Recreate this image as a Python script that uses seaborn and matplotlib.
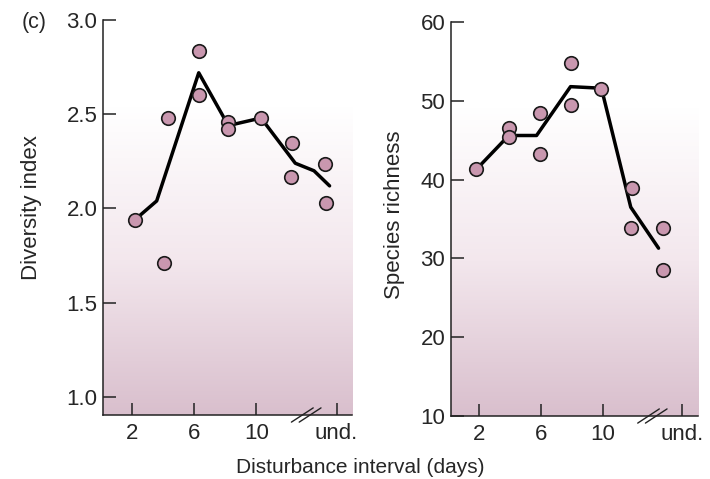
import numpy as np
import pandas as pd
import seaborn as sns
import matplotlib.pyplot as plt
from matplotlib.colors import LinearSegmentedColormap

sns.set_style("ticks")
plt.rcParams['font.family'] = ['Liberation Sans', 'DejaVu Sans']

# diversity index panel
div_x = [2.2, 4.3, 4.1, 6.3, 6.3, 8.2, 8.2, 10.3, 12.3, 12.2, 14.4, 14.5]
div_y = [1.94, 2.48, 1.71, 2.835, 2.60, 2.46, 2.42, 2.48, 2.345, 2.165, 2.235, 2.03]
div_line_x = [2.2, 3.6, 6.3, 8.2, 10.3, 12.5, 13.7, 14.7]
div_line_y = [1.94, 2.04, 2.72, 2.44, 2.48, 2.24, 2.20, 2.12]

# species richness panel
sp_x = [1.8, 3.9, 3.9, 5.9, 5.9, 7.9, 7.9, 9.9, 11.9, 11.8, 13.9, 13.9]
sp_y = [41.3, 46.5, 45.4, 48.5, 43.2, 54.8, 49.5, 51.5, 38.9, 33.8, 33.8, 28.5]
sp_line_x = [1.8, 3.9, 5.7, 7.9, 9.9, 11.8, 13.6]
sp_line_y = [41.3, 45.6, 45.6, 51.8, 51.6, 36.5, 31.3]

xtick_pos = [2, 6, 10, 15.15]
xtick_labels = ['2', '6', '10', 'und.']

fig = plt.figure(figsize=(7.1, 4.79), dpi=100)
ax1 = fig.add_axes([0.145, 0.1336, 0.351, 0.8246])
ax2 = fig.add_axes([0.635, 0.1315, 0.348, 0.8225])

grad = LinearSegmentedColormap.from_list('bg', ['#ffffff', '#f3e7ed', '#d9bfcd'])
gimg = np.linspace(0, 1, 256).reshape(-1, 1)

panels = [
    (ax1, div_x, div_y, div_line_x, div_line_y, (0.904, 3.0), [1.0, 1.5, 2.0, 2.5, 3.0],
     'Diversity index', 0.78, (-0.245, 0.524)),
    (ax2, sp_x, sp_y, sp_line_x, sp_line_y, (10, 60), [10, 20, 30, 40, 50, 60],
     'Species richness', 0.784, (-0.186, 0.51)),
]

for ax, px, py, lx, ly, ylim, yticks, ylabel, gtop, lab in panels:
    # pink gradient background
    ax.imshow(gimg, extent=[0, 1, 0, gtop], transform=ax.transAxes, aspect='auto',
              cmap=grad, origin='upper', zorder=0, interpolation='bilinear')
    sns.lineplot(x=lx, y=ly, ax=ax, sort=False, color='black', linewidth=2.5, zorder=2)
    sns.scatterplot(x=px, y=py, ax=ax, s=95, color='#c997af', edgecolor='#1a1a1a',
                    linewidth=1.2, zorder=3)
    ax.set_xlim(0.15, 16.15)
    ax.set_ylim(*ylim)
    ax.set_yticks(yticks)
    if ylim[1] > 10:
        ax.set_yticklabels([str(int(v)) for v in yticks])
    else:
        ax.set_yticklabels([f'{v:.1f}' for v in yticks])
    ax.set_xticks(xtick_pos)
    ax.set_xticklabels(xtick_labels)
    ax.tick_params(direction='in', length=9, width=1.1, labelsize=16, color='#222222')
    ax.tick_params(axis='y', pad=4)
    ax.tick_params(axis='x', pad=6)
    ax.set_ylabel(ylabel, fontsize=16)
    ax.yaxis.set_label_coords(*lab)
    ax.set_xlabel('')
    sns.despine(ax=ax)
    for s in ['left', 'bottom']:
        ax.spines[s].set_linewidth(1.1)
        ax.spines[s].set_color('#222222')
    ax.patch.set_alpha(0)
    # axis break marks
    trans = ax.get_xaxis_transform()
    for off in [-0.25, 0.25]:
        ax.plot([13.2 + off - 0.7, 13.2 + off + 0.7], [-0.018, 0.018], transform=trans,
                color='#222222', linewidth=1.0, clip_on=False, zorder=4)

fig.text(0.031, 0.954, '(c)', fontsize=15.5, va='center', ha='left')
fig.text(0.508, 0.025, 'Disturbance interval (days)', fontsize=15, va='center', ha='center')

fig.savefig('out.png', dpi=100)
